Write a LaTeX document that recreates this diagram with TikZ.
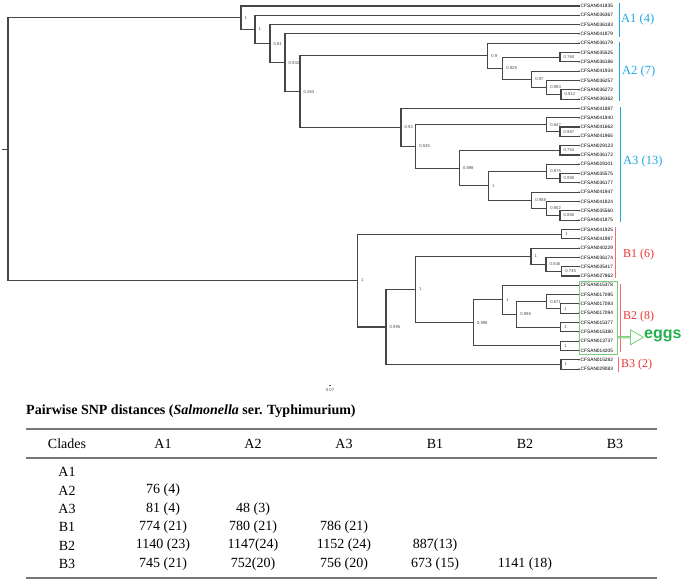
\documentclass[tikz,border=0pt]{standalone}
\usepackage{fontspec}
\setmainfont{Liberation Serif}
\newfontfamily\lsans{Liberation Sans}
\usetikzlibrary{calc,shapes.arrows}
\definecolor{abl}{RGB}{30,165,230}
\definecolor{bred}{RGB}{238,50,50}
\definecolor{bline}{RGB}{245,110,110}
\definecolor{egg}{RGB}{34,177,76}
\definecolor{boxg}{RGB}{120,205,120}
\definecolor{edgecol}{RGB}{70,70,70}
\definecolor{rulecol}{RGB}{120,120,120}
\tikzset{
  edge/.style={draw=edgecol, line width=1.1pt, line cap=rect},
  bs/.style={anchor=west, xshift=3.5pt, inner sep=0pt, text=black!70, font=\lsans\fontsize{4.2}{5}\selectfont},
  leaflbl/.style={anchor=west, xshift=1.5pt, inner sep=0pt, font=\lsans\fontsize{4.8}{5}\selectfont},
  clab/.style={anchor=west, inner sep=0pt, font=\fontsize{12.5}{13}\selectfont},
  brk/.style={line width=0.8pt},
  cell/.style={inner sep=0pt, font=\fontsize{14}{15}\selectfont},
  tabrule/.style={draw=rulecol, line width=1.3pt}
}
\newcommand\tjoin[5]{%
  \path let \p1=($(#3)!.5!(#4)$) in coordinate (#1) at (#2pt,\y1);
  \draw[edge] (#1) |- (#3);
  \draw[edge] (#1) |- (#4);
  \node[bs] (#1l) at (#1) {#5};}
\begin{document}
\begin{tikzpicture}[x=1pt,y=-1pt]
\useasboundingbox (0,0) rectangle (685,582);
% leaves
\foreach \nm [count=\i] in {CFSAN041835,CFSAN036367,CFSAN036183,CFSAN041879,CFSAN036179,CFSAN035525,CFSAN036186,CFSAN041934,CFSAN036257,CFSAN036272,CFSAN036362,CFSAN041887,CFSAN041940,CFSAN041662,CFSAN041965,CFSAN029123,CFSAN036172,CFSAN029101,CFSAN035575,CFSAN036177,CFSAN041947,CFSAN041824,CFSAN035560,CFSAN041875,CFSAN041925,CFSAN041987,CFSAN040229,CFSAN036174,CFSAN035417,CFSAN027862,CFSAN015378,CFSAN017095,CFSAN017093,CFSAN017094,CFSAN015377,CFSAN015380,CFSAN013737,CFSAN014205,CFSAN015282,CFSAN029083}{
  \coordinate (l\i) at (579,{6+9.31*(\i-1)});
  \fill[edgecol] (l\i) circle (0.8pt);
  \node[leaflbl] (t\i) at (l\i) {\nm};
}
% clade A2
\tjoin{n67}{560}{l6}{l7}{0.760}
\tjoin{n1011}{561}{l10}{l11}{0.912}
\tjoin{n9}{546.7}{l9}{n1011}{0.983}
\tjoin{n8}{531.7}{l8}{n9}{0.97}
\tjoin{n503}{502.7}{n67}{n8}{0.929}
\tjoin{a2r}{487.7}{l5}{n503}{0.9}
% clade A3
\tjoin{n1415}{560}{l14}{l15}{0.987}
\tjoin{n13}{546.7}{l13}{n1415}{0.847}
\tjoin{n1617}{560}{l16}{l17}{0.753}
\tjoin{n1920}{560}{l19}{l20}{0.990}
\tjoin{n18}{546.7}{l18}{n1920}{0.875}
\tjoin{n2324}{560}{l23}{l24}{0.880}
\tjoin{n22}{546.7}{l22}{n2324}{0.902}
\tjoin{n21}{531.7}{l21}{n22}{0.958}
\tjoin{n488}{488.3}{n18}{n21}{1}
\tjoin{n459}{459.3}{n1617}{n488}{0.898}
\tjoin{n415}{415.7}{n13}{n459}{0.535}
\tjoin{a3r}{401}{l12}{n415}{0.92}
% upper A backbone
\tjoin{nA5}{300}{a2r}{a3r}{0.363}
\tjoin{nA4}{285}{l4}{nA5}{0.932}
\tjoin{nA3}{270}{l3}{nA4}{0.81}
\tjoin{nA2}{255}{l2}{nA3}{1}
\tjoin{nA1}{241}{l1}{nA2}{1}
% clade B
\tjoin{b1a}{561.7}{l25}{l26}{1}
\tjoin{n2930}{561.7}{l29}{l30}{0.735}
\tjoin{n28}{546}{l28}{n2930}{0.546}
\tjoin{b1b}{531}{l27}{n28}{1}
\tjoin{n3334}{560.7}{l33}{l34}{1}
\tjoin{n32}{546.7}{l32}{n3334}{0.871}
\tjoin{n3536}{560.7}{l35}{l36}{1}
\tjoin{n516}{516.7}{n32}{n3536}{0.998}
\tjoin{n31}{502.7}{l31}{n516}{1}
\tjoin{n3738}{560.7}{l37}{l38}{1}
\tjoin{b2r}{473.3}{n31}{n3738}{0.998}
\tjoin{n416}{415.7}{b1b}{b2r}{1}
\tjoin{b3n}{561}{l39}{l40}{1}
\tjoin{n386}{386}{n416}{b3n}{0.995}
\tjoin{bro}{357.3}{b1a}{n386}{1}
% root
\path let \p1=($(nA1)!.5!(bro)$) in coordinate (root) at (8pt,\y1);
\draw[edge] (root) |- (nA1);
\draw[edge] (root) |- (bro);
\path let \p1=(root) in coordinate (stub) at (3pt,\y1);
\draw[edge] (stub) -- (root);
% clade brackets and labels
\draw[brk, abl] (619,2.7) -- (619,36.7);
\draw[brk, abl] (619,41.7) -- (619,101);
\draw[brk, abl] (620,107) -- (620,222);
\node[clab, text=abl] (labA1) at (621,19.5) {A1 (4)};
\node[clab, text=abl] (labA2) at (622,71) {A2 (7)};
\node[clab, text=abl] (labA3) at (623,161) {A3 (13)};
\draw[brk, bline] (615,226.7) -- (615,278);
\draw[brk, bline] (620,284) -- (620,351.7);
\draw[brk, bline] (618,357) -- (618,372);
\node[clab, text=bred, font=\fontsize{12}{13}\selectfont] (labB1) at (623,255) {B1 (6)};
\node[clab, text=bred, font=\fontsize{12}{13}\selectfont] (labB2) at (623,317) {B2 (8)};
\node[clab, text=bred, font=\fontsize{12}{13}\selectfont] (labB3) at (621,365) {B3 (2)};
\draw[boxg, line width=0.7pt] (579,281) rectangle (617,354);
\node[single arrow, draw=boxg, line width=0.8pt, inner sep=0pt, minimum height=26pt, minimum width=15pt, single arrow head extend=4pt, single arrow tip angle=60, anchor=tail] (egarrow) at (617,337.3) {};
\node[anchor=west, inner sep=0pt, text=egg, font=\lsans\bfseries\fontsize{16}{18}\selectfont] (eggs) at (644,336) {eggs};
% scale
\draw[edgecol, line width=0.4pt] (329,385.5) -- (331,385.5);
\node[inner sep=0pt, text=black!70, font=\lsans\fontsize{4.2}{5}\selectfont] (scale) at (330,390) {0.07};
% table
\node[anchor=west, inner sep=0pt, font=\bfseries\fontsize{14}{16}\selectfont] (title) at (26,411) {Pairwise SNP distances (\textit{Salmonella} ser. Typhimurium)};
\coordinate (r1l) at (26,429); \coordinate (r1r) at (657,429);
\coordinate (r2l) at (26,458); \coordinate (r2r) at (657,458);
\coordinate (r3l) at (26,578); \coordinate (r3r) at (657,578);
\draw[tabrule] (r1l) -- (r1r);
\draw[tabrule] (r2l) -- (r2r);
\draw[tabrule] (r3l) -- (r3r);
\foreach \t/\x [count=\k] in {Clades/67,A1/163,A2/253,A3/344,B1/435,B2/525,B3/615}
  \node[cell] (h\k) at (\x,443.5) {\t};
\foreach \t/\y [count=\k] in {A1/472,A2/490.5,A3/509,B1/527,B2/545.5,B3/564}
  \node[cell] (rw\k) at (67,\y) {\t};
\node[cell] (c21) at (163,490.5) {76 (4)};
\node[cell] (c31) at (163,509) {81 (4)};
\node[cell] (c32) at (253,509) {48 (3)};
\node[cell] (c41) at (163,527) {774 (21)};
\node[cell] (c42) at (253,527) {780 (21)};
\node[cell] (c43) at (344,527) {786 (21)};
\node[cell] (c51) at (163,545.5) {1140 (23)};
\node[cell] (c52) at (253,545.5) {1147(24)};
\node[cell] (c53) at (344,545.5) {1152 (24)};
\node[cell] (c54) at (435,545.5) {887(13)};
\node[cell] (c61) at (163,564) {745 (21)};
\node[cell] (c62) at (253,564) {752(20)};
\node[cell] (c63) at (344,564) {756 (20)};
\node[cell] (c64) at (435,564) {673 (15)};
\node[cell] (c65) at (525,564) {1141 (18)};
\end{tikzpicture}
\end{document}
